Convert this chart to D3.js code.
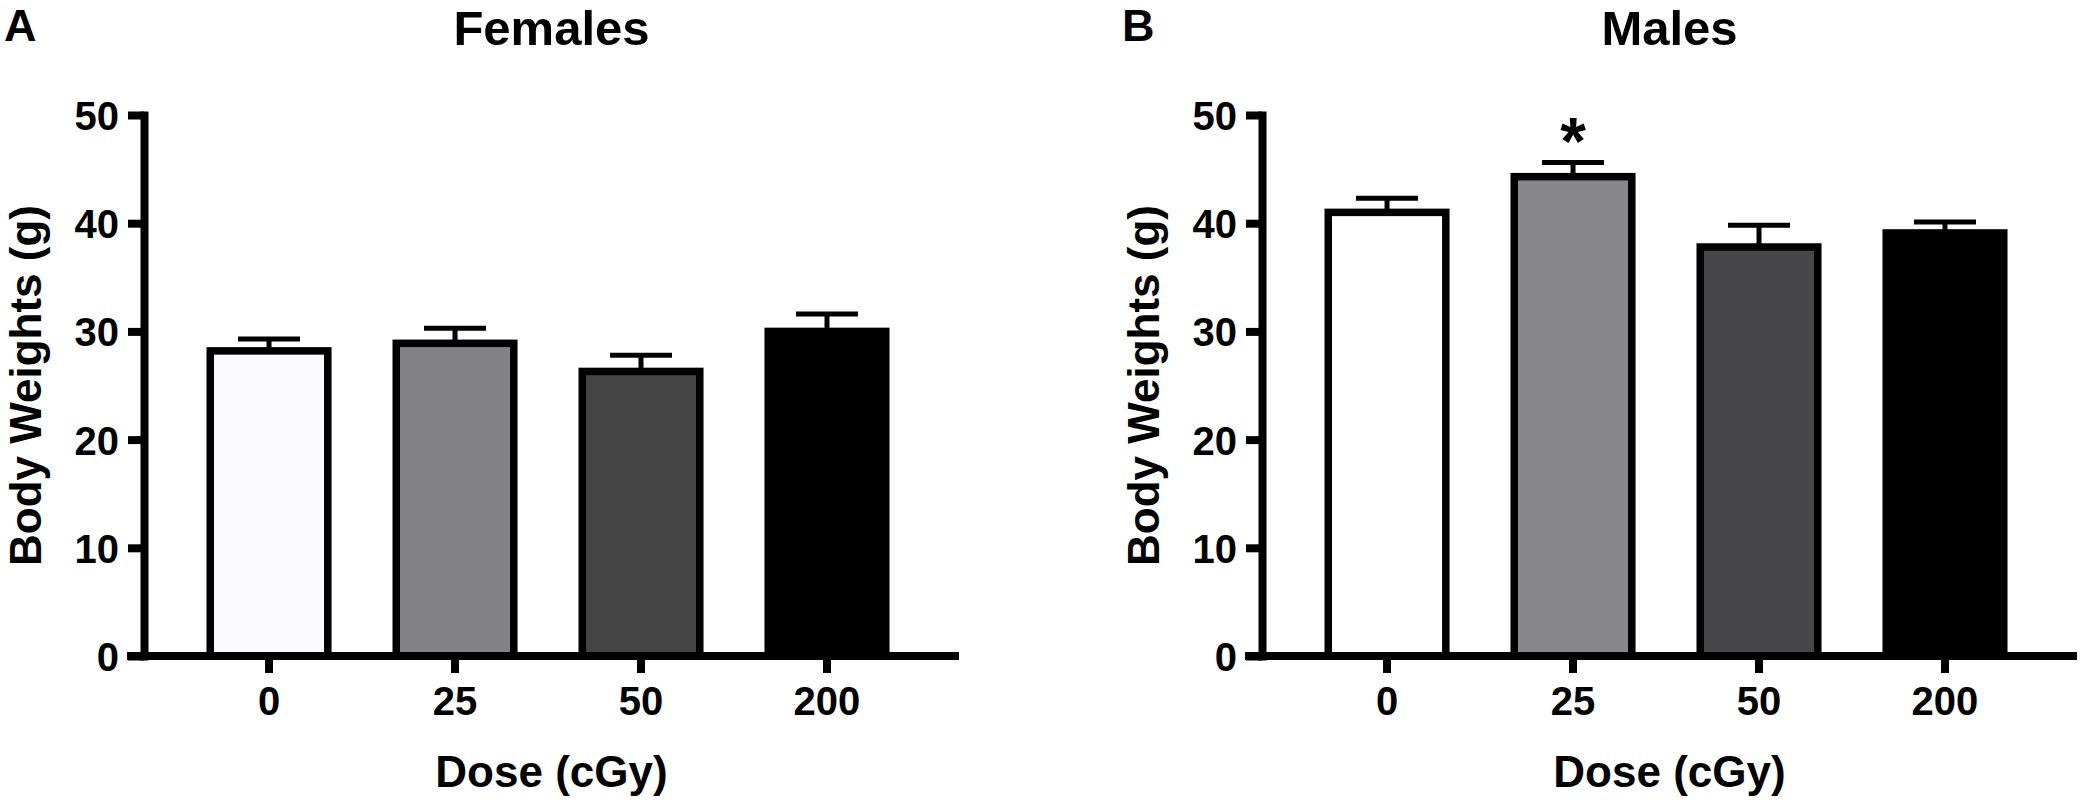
<!DOCTYPE html>
<html>
<head>
<meta charset="utf-8">
<script src="https://cdn.jsdelivr.net/npm/d3@7"></script>
<style>
  html, body { margin: 0; padding: 0; background: #fff; }
  svg text { font-family: "Liberation Sans", Arial, Helvetica, sans-serif; font-weight: bold; fill: #000; }
</style>
</head>
<body>
<div id="chart"></div>
<script>
// ----------------------------DATA-------------------------------//
const doses = ['0', '25', '50', '200'];
const yTicks = [0, 10, 20, 30, 40, 50];

const femaleMeans = [28.2, 28.9, 26.3, 30.0];
const femaleErr = [1.1, 1.4, 1.5, 1.6];
const femaleFills = ['#fbfaff', '#828186', '#444444', '#000000'];

const maleMeans = [41.0, 44.3, 37.8, 39.1];
const maleErr = [1.3, 1.3, 2.0, 1.0];
const maleMarks = ['', '*', '', ''];
const maleFills = ['#ffffff', '#86868b', '#47474a', '#000000'];

const width = 2086;
const height = 806;

const svg = d3.select('#chart').append('svg')
  .attr('width', width)
  .attr('height', height)
  .attr('viewBox', `0 0 ${width} ${height}`);

const drawPanel = (left, letter, title, means, errs, fills, marks) => {
  const g = svg.append('g').attr('transform', `translate(${left},0)`);
  const axisX = 144;

  // ----------------------------SCALES-----------------------------//
  const yScale = d3.scaleLinear().domain([0, 50]).range([656, 115]);
  const xScale = d3.scaleBand()
    .domain(doses)
    .range([axisX, axisX + 815])
    .paddingInner(0.368)
    .paddingOuter(0.375)
    .align(0.475);

  const rows = doses.map((d, i) => ({
    dose: d, mean: means[i], err: errs[i], fill: fills[i], mark: marks ? marks[i] : '',
  }));
  const cx = d => xScale(d.dose) + xScale.bandwidth() / 2;

  // ----------------------------BARS-------------------------------//
  g.selectAll('rect.bar')
    .data(rows)
    .enter()
    .append('rect')
    .attr('class', 'bar')
    .attr('x', d => xScale(d.dose))
    .attr('width', xScale.bandwidth())
    .attr('y', d => yScale(d.mean))
    .attr('height', d => yScale(0) - yScale(d.mean))
    .attr('fill', d => d.fill)
    .attr('stroke', '#000')
    .attr('stroke-width', 7.5);

  // -------------------------ERROR BARS----------------------------//
  const capWidth = 62;
  const errBars = g.selectAll('g.err')
    .data(rows)
    .enter()
    .append('g')
    .attr('class', 'err');

  errBars.append('line')
    .attr('x1', cx)
    .attr('x2', cx)
    .attr('y1', d => yScale(d.mean))
    .attr('y2', d => yScale(d.mean + d.err))
    .attr('stroke', '#000')
    .attr('stroke-width', 5);

  errBars.append('line')
    .attr('x1', d => cx(d) - capWidth / 2)
    .attr('x2', d => cx(d) + capWidth / 2)
    .attr('y1', d => yScale(d.mean + d.err))
    .attr('y2', d => yScale(d.mean + d.err))
    .attr('stroke', '#000')
    .attr('stroke-width', 5);

  errBars.filter(d => d.mark)
    .append('text')
    .attr('x', cx)
    .attr('y', d => yScale(d.mean + d.err) + 1)
    .attr('text-anchor', 'middle')
    .style('font-size', '66px')
    .text(d => d.mark);

  // -----------------------------AXES------------------------------//
  const yaxis = d3.axisLeft(yScale)
    .tickValues(yTicks)
    .tickSize(16)
    .tickSizeOuter(0)
    .tickPadding(9);

  const yg = g.append('g')
    .attr('transform', `translate(${axisX},0)`)
    .call(yaxis);
  yg.select('.domain')
    .attr('stroke-width', 8)
    .attr('stroke-linecap', 'square');
  yg.selectAll('.tick line').attr('stroke-width', 8);
  yg.selectAll('.tick text')
    .attr('dy', '0.36em')
    .style('font-size', '40px');

  const xaxis = d3.axisBottom(xScale)
    .tickSize(17)
    .tickSizeOuter(0)
    .tickPadding(14);

  const xg = g.append('g')
    .attr('transform', `translate(0,${yScale(0)})`)
    .call(xaxis);
  xg.select('.domain').remove();
  xg.selectAll('.tick line').attr('stroke-width', 8);
  xg.selectAll('.tick text').style('font-size', '40px');

  xg.append('line')
    .attr('x1', axisX - 17)
    .attr('x2', xScale.range()[1])
    .attr('stroke', '#000')
    .attr('stroke-width', 8);

  // ----------------------------LABELS-----------------------------//
  const midX = (xScale.range()[0] + xScale.range()[1]) / 2;

  g.append('text')
    .attr('x', 4)
    .attr('y', 41)
    .style('font-size', '45px')
    .text(letter);

  g.append('text')
    .attr('x', midX)
    .attr('y', 45)
    .attr('text-anchor', 'middle')
    .style('font-size', '49px')
    .text(title);

  g.append('text')
    .attr('x', midX)
    .attr('y', 787)
    .attr('text-anchor', 'middle')
    .style('font-size', '44px')
    .text('Dose (cGy)');

  g.append('text')
    .attr('transform', `translate(41,${(yScale(0) + yScale(50)) / 2}) rotate(-90)`)
    .attr('text-anchor', 'middle')
    .style('font-size', '44px')
    .text('Body Weights (g)');
};

drawPanel(0, 'A', 'Females', femaleMeans, femaleErr, femaleFills, null);
drawPanel(1118, 'B', 'Males', maleMeans, maleErr, maleFills, maleMarks);
</script>
</body>
</html>
